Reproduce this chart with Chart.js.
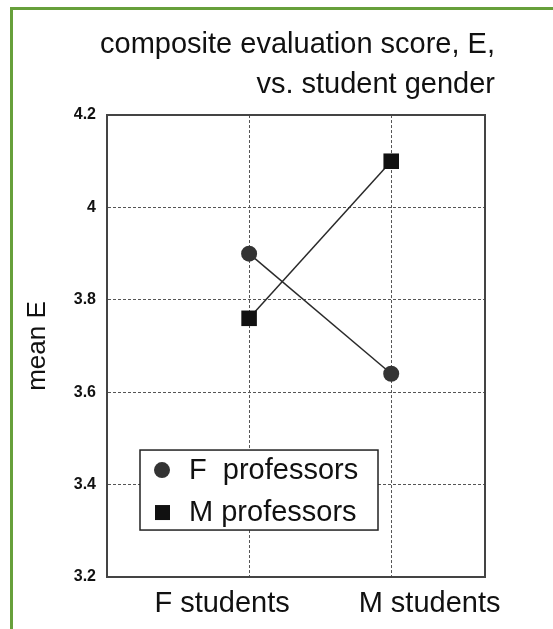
<!DOCTYPE html>
<html>
<head>
<meta charset="utf-8">
<script src="https://cdn.jsdelivr.net/npm/chart.js@4"></script>
<style>
  body { margin: 0; background: #fff; }
  #wrap { position: relative; width: 553px; height: 629px; background: #fff; }
  #frame { position: absolute; left: 10px; top: 7px; right: 0; bottom: 0;
           border-left: 3px solid #67a03b; border-top: 3px solid #67a03b; pointer-events: none; }
  canvas { position: absolute; left: 0; top: 0; }
</style>
</head>
<body>
<div id="wrap">
  <canvas id="chart" width="553" height="629"></canvas>
  <div id="frame"></div>
</div>
<script>
const studentGroups = ['F students', 'M students'];
const groupX = [1, 2];
const fProfessors = [3.90, 3.64];
const mProfessors = [3.76, 4.10];
const yTicks = [3.2, 3.4, 3.6, 3.8, 4.0, 4.2];
const seriesNames = ['F  professors', 'M professors'];

const FONT = '"Liberation Sans", Arial, Helvetica, sans-serif';
const X_MIN = 0, X_MAX = 2.66;
// labels sit a bit off their tick in the original
const labelShift = [-0.19, 0.27];

function points(values) {
    return values.map((v, i) => ({ x: groupX[i], y: v }));
}

// legend box drawn inside the plot, lower left
const insideLegend = {
    id: 'insideLegend',
    afterDraw(chart) {
        const ctx = chart.ctx;
        const a = chart.chartArea;
        const x = a.left + 33, y = a.top + 335, w = 238, h = 80;
        ctx.save();
        ctx.fillStyle = '#fff';
        ctx.fillRect(x, y, w, h);
        ctx.strokeStyle = '#222';
        ctx.lineWidth = 1.5;
        ctx.strokeRect(x, y, w, h);
        chart.data.datasets.forEach((ds, i) => {
            const cy = y + 20 + i * 42;
            ctx.fillStyle = ds.backgroundColor;
            if (ds.pointStyle === 'circle') {
                ctx.beginPath();
                ctx.arc(x + 22, cy, 8, 0, Math.PI * 2);
                ctx.fill();
            } else {
                ctx.fillRect(x + 15, cy - 7, 15, 15);
            }
            ctx.fillStyle = '#111';
            ctx.font = '29px ' + FONT;
            ctx.textBaseline = 'middle';
            ctx.textAlign = 'left';
            ctx.fillText(ds.label, x + 49, cy + 1);
        });
        ctx.restore();
    }
};

new Chart(document.getElementById('chart'), {
    type: 'line',
    data: {
        datasets: [{
            label: seriesNames[0],
            data: points(fProfessors),
            borderColor: '#2a2a2a',
            borderWidth: 1.5,
            backgroundColor: '#333',
            pointStyle: 'circle',
            pointRadius: 8,
            pointBorderWidth: 0,
            pointBackgroundColor: '#333',
        }, {
            label: seriesNames[1],
            data: points(mProfessors),
            borderColor: '#2a2a2a',
            borderWidth: 1.5,
            backgroundColor: '#111',
            pointStyle: 'rect',
            pointRadius: 11,
            pointBorderWidth: 0,
            pointBackgroundColor: '#111',
        }]
    },
    options: {
        responsive: false,
        animation: false,
        layout: { padding: { left: 0, right: 58, top: 0, bottom: 0 } },
        plugins: {
            legend: { display: false },
            tooltip: { enabled: false },
            title: {
                display: true,
                align: 'end',
                text: ['composite evaluation score, E,', 'vs. student gender'],
                color: '#111',
                font: { family: FONT, size: 29, weight: 'normal', lineHeight: 1.38 },
                padding: { top: 25, bottom: 10 }
            }
        },
        scales: {
            x: {
                type: 'linear',
                min: X_MIN,
                max: X_MAX,
                afterBuildTicks: s => { s.ticks = groupX.map(v => ({ value: v })); },
                afterFit: s => { s.height = 0; },
                ticks: { display: false },
                grid: { color: '#555', lineWidth: 1, drawTicks: false },
                border: { display: true, color: '#444', width: 2, dash: [3, 2] }
            },
            xLabels: {
                type: 'linear',
                position: 'bottom',
                min: X_MIN,
                max: X_MAX,
                afterBuildTicks: s => {
                    s.ticks = groupX.map((v, i) => ({ value: v + labelShift[i] }));
                },
                afterFit: s => { s.height = 52; },
                grid: { display: false, drawTicks: false },
                border: { display: false },
                ticks: {
                    padding: 10,
                    color: '#111',
                    font: { family: FONT, size: 29 },
                    maxRotation: 0,
                    autoSkip: false,
                    callback: (v, i) => studentGroups[i]
                }
            },
            xTop: {
                type: 'linear',
                position: 'top',
                min: X_MIN,
                max: X_MAX,
                afterFit: s => { s.height = 0; },
                ticks: { display: false },
                grid: { display: false, drawTicks: false },
                border: { display: true, color: '#444', width: 2 }
            },
            y: {
                min: 3.2,
                max: 4.2,
                afterBuildTicks: s => { s.ticks = yTicks.map(v => ({ value: v })); },
                afterFit: s => { s.width = 107; },
                ticks: {
                    padding: 11,
                    color: '#111',
                    font: { family: FONT, size: 16, weight: 'bold' },
                    callback: v => String(+v.toFixed(1))
                },
                grid: { color: '#555', lineWidth: 1, drawTicks: false },
                border: { display: true, color: '#444', width: 2, dash: [3, 2] },
                title: {
                    display: true,
                    text: 'mean E',
                    color: '#111',
                    font: { family: FONT, size: 26 },
                    padding: { top: 22, bottom: 0 }
                }
            },
            yRight: {
                position: 'right',
                min: 3.2,
                max: 4.2,
                afterFit: s => { s.width = 10; },
                ticks: { display: false },
                grid: { display: false, drawTicks: false },
                border: { display: true, color: '#444', width: 2 }
            }
        }
    },
    plugins: [insideLegend]
});
</script>
</body>
</html>
